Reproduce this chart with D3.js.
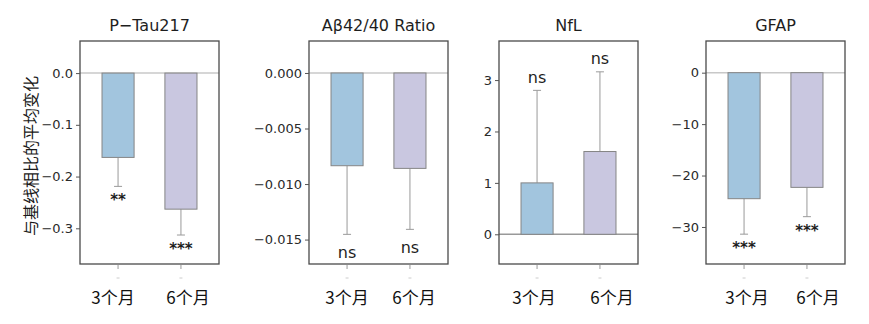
<!DOCTYPE html>
<html><head><meta charset="utf-8">
<script src="https://cdn.jsdelivr.net/npm/d3@7"></script>
<style>body{margin:0;background:#fff}</style>
</head><body>
<script>
// ---- data ----
const categories = ["3个月", "6个月"];
const titles = ["P−Tau217", "Aβ42/40 Ratio", "NfL", "GFAP"];
const ptauMean = [-0.163, -0.263];
const ptauErr = [0.056, 0.050];
const abMean = [-0.00835, -0.00859];
const abErr = [0.00618, 0.00549];
const nflMean = [1.00, 1.61];
const nflErr = [1.80, 1.55];
const gfapMean = [-24.5, -22.3];
const gfapErr = [6.9, 5.7];
const ptauSig = ["**", "***"];
const abSig = ["ns", "ns"];
const nflSig = ["ns", "ns"];
const gfapSig = ["***", "***"];
const ptauTicks = [0, -0.1, -0.2, -0.3];
const abTicks = [0, -0.005, -0.010, -0.015];
const nflTicks = [0, 1, 2, 3];
const gfapTicks = [0, -10, -20, -30];
const yLabel = "与基线相比的平均变化";

// ---- layout/style ----
const W = 869, H = 324;
const boxTop = 41, boxBottom = 264, pw = 139;
const panels = [
  {x: 80, mean: ptauMean, err: ptauErr, sig: ptauSig, ticks: ptauTicks, dom: [-0.369, 0.062], fmt: ".1f", zero: "#c8c8c8", lab: [-5, 7]},
  {x: 309, mean: abMean, err: abErr, sig: abSig, ticks: abTicks, dom: [-0.0172, 0.00288], fmt: ".3f", zero: "#c8c8c8", lab: [0, 4]},
  {x: 499, mean: nflMean, err: nflErr, sig: nflSig, ticks: nflTicks, dom: [-0.578, 3.76], fmt: "d", zero: "#999", lab: [-3, 12]},
  {x: 706, mean: gfapMean, err: gfapErr, sig: gfapSig, ticks: gfapTicks, dom: [-37.2, 6.16], fmt: "d", zero: "#c8c8c8", lab: [3, 11]}
];
const colors = ["#a2c5de", "#c9c7e0"];
const svg = d3.select("body").append("svg").attr("width", W).attr("height", H)
  .style("font-family", "'DejaVu Sans', sans-serif");

svg.append("text").attr("transform", "translate(30,156) rotate(-90)")
  .attr("text-anchor", "middle").attr("dominant-baseline", "central")
  .style("font-family", "'Noto Sans CJK SC', sans-serif").style("font-size", "16px")
  .attr("fill", "#1a1a1a").text(yLabel);

panels.forEach((p, i) => {
  const g = svg.append("g").attr("transform", `translate(${p.x},0)`);
  const x = d3.scaleBand().domain(categories).range([0, pw]).paddingInner(0.49).paddingOuter(0.35);
  const y = d3.scaleLinear().domain(p.dom).range([boxBottom, boxTop]);

  // title
  g.append("text").attr("x", pw / 2).attr("y", 31).attr("text-anchor", "middle")
    .style("font-size", "16px").attr("fill", "#1e1e1e").text(titles[i]);

  // zero line
  g.append("line").attr("x1", 0).attr("x2", pw).attr("y1", y(0)).attr("y2", y(0))
    .attr("stroke", p.zero).attr("stroke-width", 1.5);

  const data = categories.map((c, j) => ({c, m: p.mean[j], e: p.err[j], s: p.sig[j], j}));

  // error bars
  data.forEach(d => {
    const cx = x(d.c) + x.bandwidth() / 2;
    const end = d.m + Math.sign(d.m) * d.e;
    g.append("line").attr("x1", cx).attr("x2", cx).attr("y1", y(d.m)).attr("y2", y(end))
      .attr("stroke", "#9a9a9a").attr("stroke-width", 1);
    g.append("line").attr("x1", cx - 4).attr("x2", cx + 4).attr("y1", y(end)).attr("y2", y(end))
      .attr("stroke", "#9a9a9a").attr("stroke-width", 1);
    let ty;
    if (d.m > 0) ty = y(end) - 12 + 4.5;
    else if (d.s === "ns") ty = y(end) + 19 + 4.5;
    else ty = y(end) + 12 + 7;
    g.append("text").attr("x", cx).attr("y", ty).attr("text-anchor", "middle")
      .style("font-size", d.s === "ns" ? "16px" : "15px").style("font-weight", d.s === "ns" ? "normal" : "bold")
      .attr("fill", "#1e1e1e").text(d.s);
  });

  // bars
  g.selectAll("rect.bar").data(data).enter().append("rect").attr("class", "bar")
    .attr("x", d => x(d.c)).attr("width", x.bandwidth())
    .attr("y", d => y(Math.max(0, d.m))).attr("height", d => Math.abs(y(d.m) - y(0)))
    .attr("fill", d => colors[d.j]).attr("stroke", "#858585").attr("stroke-width", 1);

  // box
  g.append("rect").attr("x", 0).attr("y", boxTop).attr("width", pw).attr("height", boxBottom - boxTop)
    .attr("fill", "none").attr("stroke", "#4a4a4a").attr("stroke-width", 1.3);

  // y axis
  const ya = d3.axisLeft(y).tickValues(p.ticks).tickSize(4).tickPadding(3).tickFormat(d3.format(p.fmt));
  const ag = g.append("g").call(ya);
  ag.select(".domain").remove();
  ag.selectAll(".tick line").attr("stroke", "#555");
  ag.selectAll(".tick text").style("font-family", "'DejaVu Sans', sans-serif")
    .style("font-size", "13px").attr("fill", "#2a2a2a");

  // x axis ticks
  const xa = d3.axisBottom(x).tickSize(4).tickFormat("");
  const xg = g.append("g").attr("transform", `translate(0,${boxBottom + 1})`).call(xa);
  xg.select(".domain").remove();
  xg.selectAll(".tick line").attr("stroke", "#999");
  xg.selectAll(".tick").append("line").attr("x1", -1.5).attr("x2", 1.5).attr("y1", 13).attr("y2", 13)
    .attr("stroke", "#ccc");
  xg.selectAll(".tick").append("text").attr("x", (d, j) => p.lab[j]).attr("y", 39)
    .attr("text-anchor", "middle").attr("fill", "#111")
    .style("font-family", "'Noto Sans CJK SC', sans-serif").style("font-size", "17px")
    .text(d => d);
});
</script>
</body></html>
